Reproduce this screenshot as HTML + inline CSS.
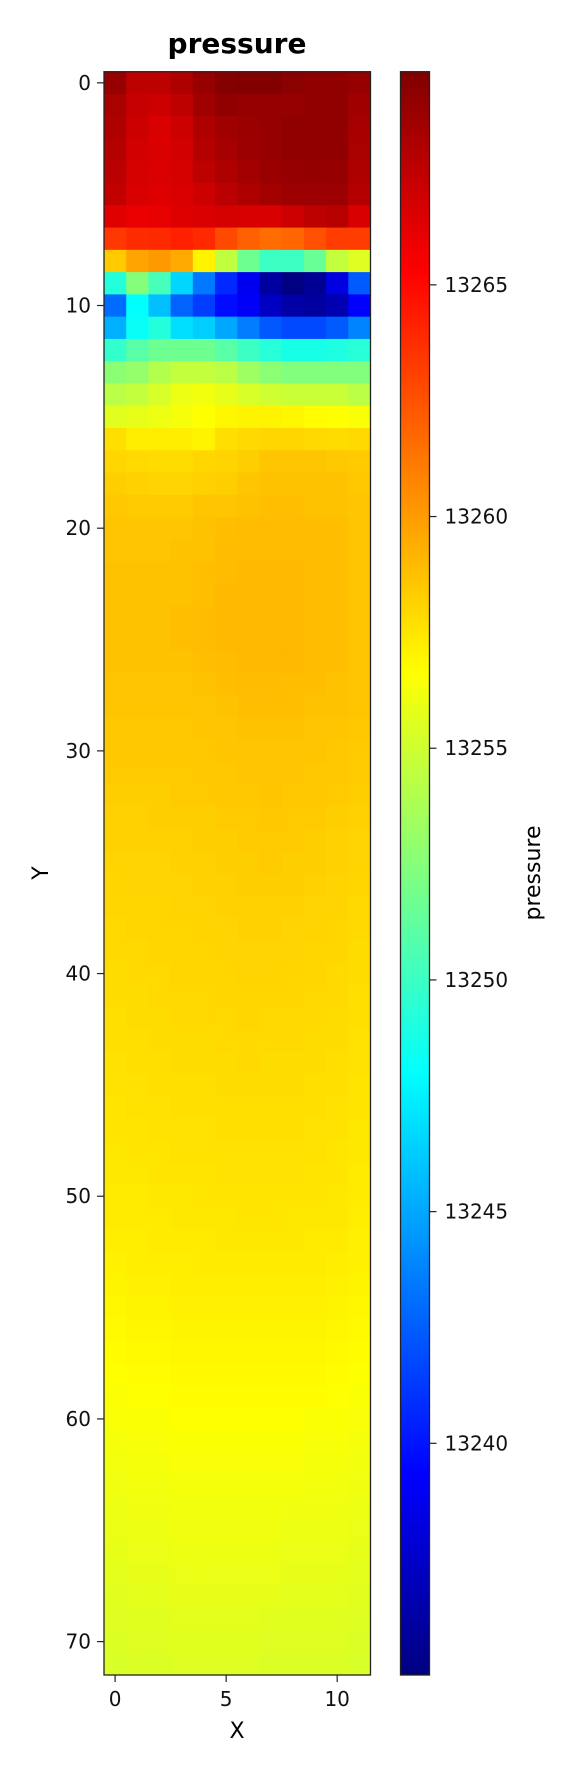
<!DOCTYPE html>
<html><head><meta charset="utf-8"><style>
html,body{margin:0;padding:0;background:#fff;}
svg{display:block;font-family:"DejaVu Sans","Liberation Sans",sans-serif;}
</style></head><body>
<svg id="chart" width="573" height="1772" viewBox="0 0 573 1772" xmlns="http://www.w3.org/2000/svg">
<defs>
<linearGradient id="jetGrad" x1="0" y1="1" x2="0" y2="0">
<stop offset="0" stop-color="#000080"/><stop offset="0.125" stop-color="#0000ff"/>
<stop offset="0.375" stop-color="#00ffff"/><stop offset="0.625" stop-color="#ffff00"/>
<stop offset="0.875" stop-color="#ff0000"/><stop offset="1" stop-color="#800000"/>
</linearGradient>
</defs>
<g id="cells"></g>
<g id="axes"></g>
<text x="237" y="53" font-size="28" font-weight="bold" text-anchor="middle">pressure</text>
<text x="237" y="1738" font-size="22" text-anchor="middle">X</text>
<text transform="translate(48,873) rotate(-90)" font-size="22" text-anchor="middle">Y</text>
<text transform="translate(540,873) rotate(-90)" font-size="22" text-anchor="middle">pressure</text>
</svg>
<script>
const BASE = 13200;
const vMin = 13235.0;
const vMax = 13269.6;
const xTicks = [0, 5, 10];
const yTicks = [0, 10, 20, 30, 40, 50, 60, 70];
const cbTicks = [13240, 13245, 13250, 13255, 13260, 13265];
const pressureOffset = [
[68.8,67.5,67.5,68.0,68.8,69.4,69.5,69.5,69.2,69.0,69.0,68.8],
[68.2,67.2,67.0,67.5,68.5,69.0,68.8,68.8,68.8,69.0,69.0,68.5],
[68.0,67.0,66.6,67.0,68.0,68.5,68.7,68.8,69.0,69.0,69.0,68.3],
[67.8,66.8,66.5,66.8,67.8,68.3,68.6,68.8,69.0,69.0,69.0,68.2],
[67.6,66.7,66.5,66.7,67.5,68.0,68.4,68.7,68.8,68.9,68.8,68.0],
[67.3,66.6,66.4,66.6,67.0,67.6,68.0,68.4,68.6,68.6,68.6,67.8],
[66.3,66.0,66.1,66.4,66.6,66.7,66.6,66.6,67.0,67.5,67.7,66.6],
[63.4,63.8,63.9,64.2,63.9,62.8,62.0,61.6,61.8,62.6,63.2,63.2],
[58.4,59.7,60.1,59.5,57.0,54.5,51.7,50.0,50.0,51.5,54.6,55.5],
[49.2,52.5,50.3,46.6,43.4,40.7,38.8,36.1,35.0,35.7,38.3,42.4],
[43.0,48.0,45.8,42.7,41.4,39.7,39.1,37.3,36.3,36.1,36.7,39.3],
[45.3,48.2,49.2,46.9,46.3,45.0,43.6,42.3,41.8,41.8,42.4,43.8],
[49.7,51.0,51.7,51.7,51.7,51.0,50.0,49.3,48.8,48.8,49.0,49.3],
[52.7,53.0,54.0,54.6,54.6,54.3,53.3,52.7,52.4,52.4,52.4,52.4],
[54.3,54.6,55.3,56.0,56.2,55.8,55.3,55.0,54.8,54.8,54.8,54.3],
[55.6,55.8,56.0,56.3,56.6,56.9,57.0,57.0,56.9,56.7,56.6,56.4],
[57.7,57.2,57.2,57.2,57.0,57.7,57.9,58.0,58.0,57.9,57.8,57.9],
[58.0,57.9,57.8,57.8,58.0,58.1,58.3,58.6,58.6,58.6,58.5,58.4],
[58.3,58.2,58.1,58.1,58.2,58.3,58.6,58.7,58.7,58.7,58.7,58.5],
[58.5,58.4,58.4,58.4,58.6,58.6,58.7,58.8,58.8,58.7,58.7,58.6],
[58.6,58.6,58.6,58.6,58.7,58.8,58.9,58.9,58.9,58.9,58.8,58.6],
[58.6,58.6,58.6,58.7,58.7,58.9,58.9,58.9,58.9,58.9,58.8,58.6],
[58.7,58.7,58.7,58.7,58.8,58.9,59.0,59.0,59.0,58.9,58.8,58.6],
[58.7,58.7,58.7,58.7,58.8,59.0,59.0,59.0,59.0,58.9,58.8,58.6],
[58.7,58.7,58.7,58.8,58.9,59.0,59.0,59.0,59.0,58.9,58.8,58.6],
[58.7,58.7,58.7,58.8,58.9,59.0,59.0,59.0,59.0,58.9,58.8,58.6],
[58.7,58.7,58.7,58.7,58.8,58.9,59.0,59.0,59.0,58.9,58.8,58.6],
[58.6,58.6,58.6,58.6,58.7,58.8,58.9,58.9,58.8,58.8,58.7,58.6],
[58.6,58.6,58.6,58.6,58.6,58.7,58.8,58.8,58.8,58.7,58.7,58.6],
[58.5,58.5,58.5,58.5,58.6,58.6,58.7,58.7,58.7,58.6,58.6,58.5],
[58.5,58.5,58.5,58.5,58.5,58.6,58.6,58.6,58.6,58.6,58.5,58.4],
[58.4,58.4,58.4,58.4,58.5,58.5,58.6,58.6,58.6,58.5,58.5,58.4],
[58.3,58.3,58.3,58.4,58.4,58.5,58.5,58.6,58.5,58.5,58.4,58.3],
[58.2,58.2,58.3,58.3,58.3,58.4,58.4,58.5,58.4,58.4,58.3,58.2],
[58.2,58.2,58.2,58.2,58.3,58.3,58.4,58.4,58.4,58.3,58.2,58.1],
[58.1,58.1,58.1,58.2,58.2,58.3,58.3,58.4,58.3,58.3,58.2,58.1],
[58.0,58.1,58.1,58.1,58.2,58.2,58.3,58.3,58.3,58.2,58.1,58.0],
[58.0,58.0,58.0,58.1,58.1,58.2,58.2,58.2,58.2,58.1,58.1,57.9],
[57.9,58.0,58.0,58.0,58.1,58.1,58.2,58.2,58.1,58.1,58.0,57.9],
[57.9,57.9,58.0,58.0,58.0,58.1,58.1,58.1,58.1,58.0,58.0,57.8],
[57.8,57.9,57.9,58.0,58.0,58.0,58.1,58.1,58.0,58.0,57.9,57.8],
[57.8,57.8,57.9,57.9,57.9,58.0,58.0,58.0,58.0,57.9,57.9,57.7],
[57.7,57.8,57.8,57.9,57.9,57.9,58.0,57.9,57.9,57.9,57.8,57.7],
[57.7,57.7,57.8,57.8,57.8,57.9,57.9,57.9,57.9,57.8,57.8,57.6],
[57.6,57.7,57.7,57.8,57.8,57.8,57.9,57.8,57.8,57.8,57.7,57.6],
[57.6,57.6,57.7,57.7,57.7,57.8,57.8,57.8,57.8,57.7,57.7,57.5],
[57.5,57.6,57.6,57.7,57.7,57.7,57.7,57.7,57.7,57.7,57.6,57.5],
[57.5,57.5,57.6,57.6,57.6,57.7,57.7,57.7,57.7,57.6,57.6,57.4],
[57.4,57.5,57.5,57.6,57.6,57.6,57.6,57.6,57.6,57.6,57.5,57.4],
[57.4,57.4,57.5,57.5,57.5,57.6,57.6,57.6,57.6,57.5,57.5,57.3],
[57.3,57.3,57.4,57.4,57.5,57.5,57.5,57.5,57.5,57.5,57.4,57.3],
[57.3,57.3,57.3,57.4,57.4,57.4,57.5,57.5,57.4,57.4,57.4,57.2],
[57.2,57.2,57.3,57.3,57.3,57.4,57.4,57.4,57.4,57.3,57.3,57.1],
[57.1,57.2,57.2,57.2,57.3,57.3,57.3,57.3,57.3,57.3,57.2,57.1],
[57.0,57.1,57.1,57.2,57.2,57.2,57.2,57.2,57.2,57.2,57.1,57.0],
[56.9,57.0,57.0,57.1,57.1,57.1,57.1,57.1,57.1,57.1,57.0,56.9],
[56.8,56.9,56.9,57.0,57.0,57.0,57.0,57.0,57.0,57.0,56.9,56.8],
[56.7,56.8,56.8,56.9,56.9,56.9,56.9,56.9,56.9,56.9,56.8,56.7],
[56.6,56.7,56.7,56.8,56.8,56.8,56.8,56.8,56.8,56.8,56.7,56.6],
[56.5,56.6,56.6,56.7,56.7,56.7,56.7,56.7,56.7,56.7,56.6,56.5],
[56.4,56.5,56.5,56.6,56.6,56.6,56.6,56.6,56.6,56.5,56.5,56.4],
[56.3,56.4,56.4,56.5,56.5,56.5,56.5,56.5,56.5,56.4,56.4,56.3],
[56.2,56.3,56.3,56.4,56.4,56.4,56.4,56.4,56.4,56.3,56.3,56.2],
[56.1,56.2,56.2,56.3,56.3,56.3,56.3,56.3,56.3,56.2,56.2,56.1],
[56.0,56.1,56.1,56.2,56.2,56.2,56.2,56.2,56.1,56.1,56.1,56.0],
[55.9,56.0,56.0,56.1,56.1,56.1,56.1,56.1,56.0,56.0,56.0,55.9],
[55.8,55.9,55.9,56.0,56.0,56.0,56.0,56.0,55.9,55.9,55.9,55.8],
[55.7,55.8,55.8,55.9,55.9,55.9,55.9,55.9,55.8,55.8,55.8,55.7],
[55.6,55.7,55.7,55.8,55.8,55.8,55.8,55.8,55.7,55.7,55.7,55.6],
[55.5,55.6,55.6,55.7,55.7,55.7,55.7,55.6,55.6,55.6,55.6,55.5],
[55.4,55.5,55.5,55.6,55.6,55.6,55.6,55.5,55.5,55.5,55.5,55.4],
[55.3,55.4,55.4,55.5,55.5,55.5,55.5,55.4,55.4,55.4,55.4,55.3]
];

const NS = "http://www.w3.org/2000/svg";
const PL = 104, PR = 370.5, PT = 71.7, PB = 1675;
const CBL = 400.5, CBR = 429.5;
const nRows = pressureOffset.length, nCols = pressureOffset[0].length;
const cw = (PR - PL) / nCols, ch = (PB - PT) / nRows;
function xScale(i) { return PL + (i + 0.5) * cw; }
function yScale(j) { return PT + (j + 0.5) * ch; }
function cbScale(v) { return PB - (v - vMin) / (vMax - vMin) * (PB - PT); }
function clip(v) { return Math.max(0, Math.min(1, v)); }
function jet(t) {
  const r = clip(1.5 - Math.abs(4 * t - 3)), g = clip(1.5 - Math.abs(4 * t - 2)), b = clip(1.5 - Math.abs(4 * t - 1));
  return "rgb(" + Math.round(r * 255) + "," + Math.round(g * 255) + "," + Math.round(b * 255) + ")";
}
function mk(tag, attrs, parent) {
  const e = document.createElementNS(NS, tag);
  for (const k in attrs) e.setAttribute(k, attrs[k]);
  parent.appendChild(e);
  return e;
}
const cells = document.getElementById("cells");
const axes = document.getElementById("axes");
for (let j = 0; j < nRows; j++) {
  for (let i = 0; i < nCols; i++) {
    const v = BASE + pressureOffset[j][i];
    const r = mk("rect", { x: (xScale(i) - cw / 2).toFixed(2), y: (yScale(j) - ch / 2).toFixed(2), width: (cw + 0.5).toFixed(2), height: (ch + 0.5).toFixed(2), fill: jet(clip((v - vMin) / (vMax - vMin))) }, cells);
    
    
  }
}
const frame = mk("rect", { x: PL, y: PT, width: PR - PL, height: PB - PT, fill: "none", stroke: "#222", "stroke-width": 1.3 }, axes);


yTicks.forEach(t => {
  const y = yScale(t);
  const l = mk("line", { x1: PL - 7, x2: PL, y1: y, y2: y, stroke: "#222", "stroke-width": 1.2 }, axes);
  
  
  const tx = mk("text", { x: PL - 13, y: y + 7, "text-anchor": "end", "font-size": 20, fill: "#111" }, axes);
  tx.textContent = t;
  
  
});
xTicks.forEach(t => {
  const x = xScale(t);
  const l = mk("line", { x1: x, x2: x, y1: PB, y2: PB + 7, stroke: "#222", "stroke-width": 1.2 }, axes);
  
  
  const tx = mk("text", { x: x, y: PB + 31, "text-anchor": "middle", "font-size": 20, fill: "#111" }, axes);
  tx.textContent = t;
  
  
});
const cb = mk("rect", { x: CBL, y: PT, width: CBR - CBL, height: PB - PT, fill: "url(#jetGrad)", stroke: "#222", "stroke-width": 1.3 }, axes);


cbTicks.forEach(t => {
  const y = cbScale(t);
  const l = mk("line", { x1: CBR, x2: CBR + 7, y1: y, y2: y, stroke: "#222", "stroke-width": 1.2 }, axes);
  
  
  const tx = mk("text", { x: CBR + 15, y: y + 7, "font-size": 20, fill: "#111" }, axes);
  tx.textContent = t;
  
  
});
</script>
</body></html>
